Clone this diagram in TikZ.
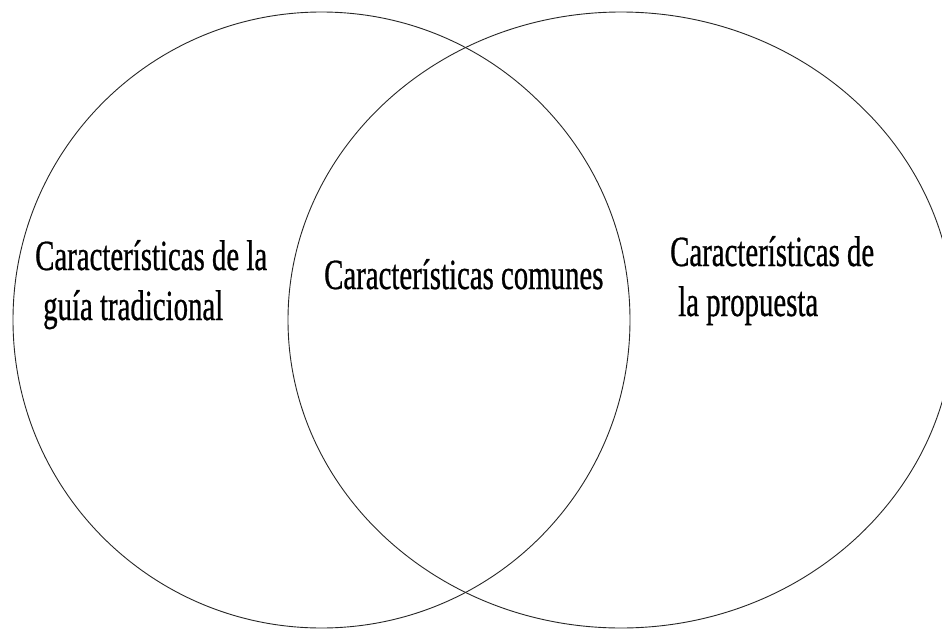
\documentclass[tikz,border=0pt]{standalone}
\usepackage{fontspec}
\usepackage{xcolor}
\usepackage{tikz}
\newfontfamily\vennfont[FakeStretch=0.67, FakeBold=0.6]{Liberation Serif}

\begin{document}
\begin{tikzpicture}[x=1pt, y=-1pt,
        every node/.style={inner sep=0pt, anchor=base west, align=left,
        font=\vennfont\fontsize{43}{50}\selectfont},
        set/.style={draw=black!85, line width=0.9pt}]
        \useasboundingbox[fill=white] (0,0) rectangle (942,629);

        \draw[set] (321.5,320) ellipse [x radius=308.5, y radius=308];
        \draw[set] (621,320) ellipse [x radius=333, y radius=308];

        % base of a two-line node is the baseline of its last line
        \node (left) at (35,320) {Características de la\\\hspace*{8pt}guía tradicional};
        \node (common) at (324,289) {Características comunes};
        \node (right) at (670,316) {Características de\\\hspace*{8pt}la propuesta};
    \end{tikzpicture}
\end{document}
